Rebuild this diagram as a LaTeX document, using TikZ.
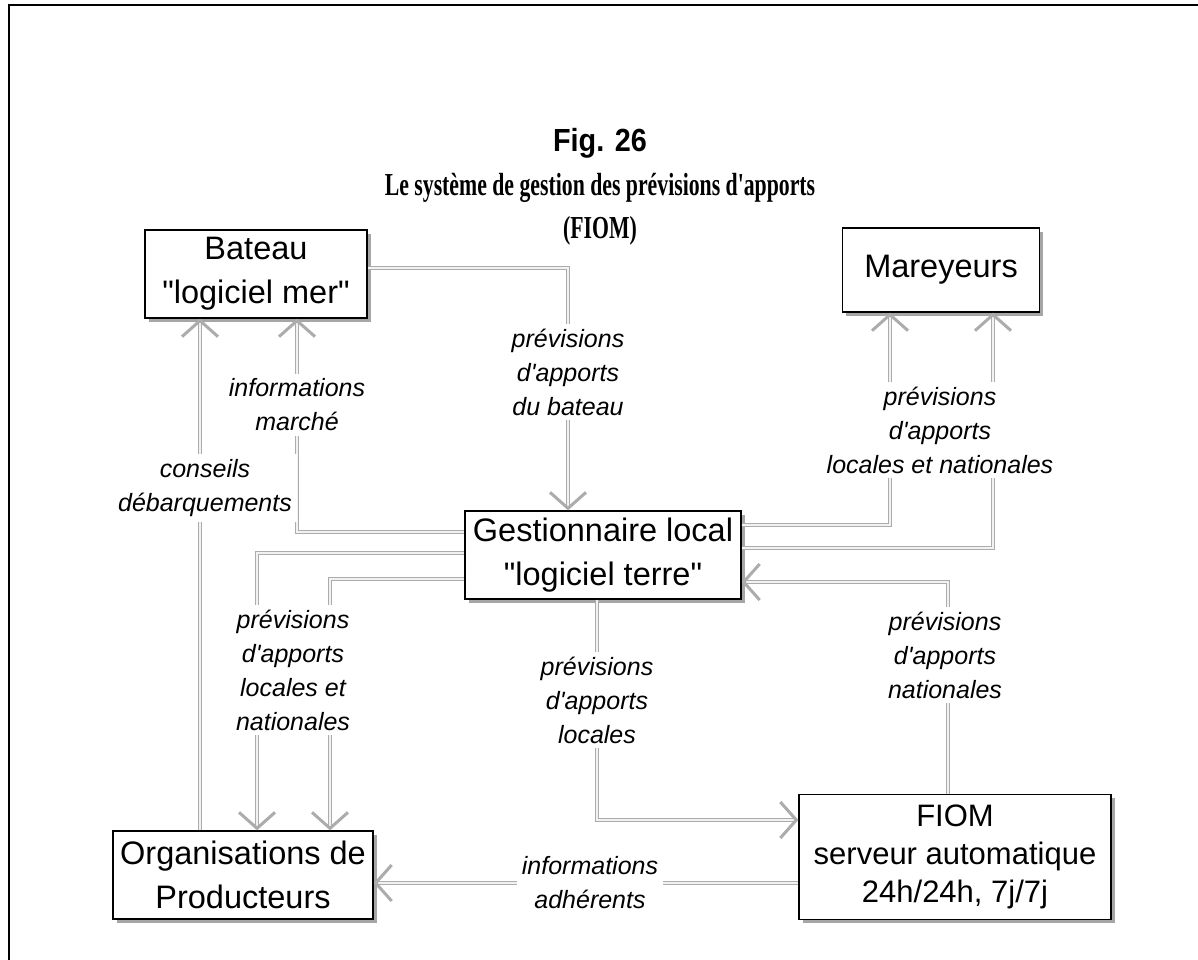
\documentclass[tikz,border=0pt]{standalone}
\usepackage{fontspec}
\setmainfont{Liberation Serif}[Ligatures=TeXOff]
\setsansfont{Liberation Sans}[Ligatures=TeXOff]
\usetikzlibrary{arrows.meta,shadows}
\begin{document}
\begin{tikzpicture}[x=1pt,y=-1pt,
  box/.style={draw=black, line width=1.3pt, fill=white, align=center, inner sep=0pt,
    font=\sffamily\fontsize{32.5}{44}\selectfont,
    drop shadow={shadow xshift=3.5pt, shadow yshift=-3.5pt, fill=gray!70, opacity=1}},
  flow/.style={draw=gray!65, line width=1.4pt, double=gray!10, double distance=1.8pt,
    -{Straight Barb[length=16pt,width=36pt,line width=3pt]}},
  lbl/.style={fill=white, align=center, inner sep=5pt,
    font=\sffamily\itshape\fontsize{25}{34}\selectfont},
  frame/.style={draw=black, line width=1.3pt}]
\useasboundingbox (0,0) rectangle (1198,960);
\coordinate (ftl) at (9,5);
\coordinate (ftr) at (1198,5);
\coordinate (fbl) at (9,960);
\draw[frame] (ftr) -- (ftl) -- (fbl);

% title
\node (t1) at (600,143) {\scalebox{0.9}[1]{\sffamily\bfseries\fontsize{32}{36}\selectfont Fig. 26}};
\node (t2) at (600,188) {\scalebox{0.68}[1]{\bfseries\fontsize{32}{36}\selectfont Le système de gestion des prévisions d'apports}};
\node (t3) at (600,231) {\scalebox{0.68}[1]{\bfseries\fontsize{32}{36}\selectfont (FIOM)}};

% boxes
\node[box, minimum width=222pt, minimum height=88pt] (bat) at (256,274) {Bateau\\"logiciel mer"};
\node[box, minimum width=197pt, minimum height=84pt] (mar) at (941,270) {Mareyeurs};
\node[box, minimum width=276pt, minimum height=88pt] (gest) at (603,555) {Gestionnaire local\\"logiciel terre"};
\node[box, minimum width=260pt, minimum height=88pt] (org) at (243,875) {Organisations de\\Producteurs};
\node[box, minimum width=312pt, minimum height=125pt, font=\sffamily\fontsize{31}{38}\selectfont] (fiom) at (955,857) {FIOM\\serveur automatique\\24h/24h, 7j/7j};

% connectors
\draw[flow] ([yshift=6pt]bat.east) -| ([xshift=-35pt]gest.north);
\draw[flow] ([yshift=23pt]gest.west) -| ([xshift=41pt]bat.south);
\draw[flow] ([xshift=-43pt]org.north) -- ([xshift=-56pt]bat.south);
\draw[flow] ([yshift=2pt]gest.west) -| ([xshift=14pt]org.north);
\draw[flow] ([yshift=-24pt]gest.west) -| ([xshift=87pt]org.north);
\draw[flow] ([yshift=30pt]gest.east) -| ([xshift=-51pt]mar.south);
\draw[flow] ([yshift=7pt]gest.east) -| ([xshift=52pt]mar.south);
\draw[flow] ([xshift=-7pt]fiom.north) |- ([yshift=-27pt]gest.east);
\draw[flow] ([xshift=-6pt]gest.south) |- ([yshift=37pt]fiom.west);
\draw[flow] ([yshift=-26pt]fiom.west) -- ([yshift=-8pt]org.east);

% labels
\node[lbl] (l1) at (568,372) {prévisions\\d'apports\\du bateau};
\node[lbl] (l2) at (297,405) {informations\\marché};
\node[lbl] (l3) at (205,488) {conseils\\débarquements};
\node[lbl] (l4) at (293,670) {prévisions\\d'apports\\locales et\\nationales};
\node[lbl] (l5) at (940,430) {prévisions\\d'apports\\locales et nationales};
\node[lbl] (l6) at (945,655) {prévisions\\d'apports\\nationales};
\node[lbl] (l7) at (597,700) {prévisions\\d'apports\\locales};
\node[lbl] (l8) at (590,883) {informations\\adhérents};
\end{tikzpicture}
\end{document}
